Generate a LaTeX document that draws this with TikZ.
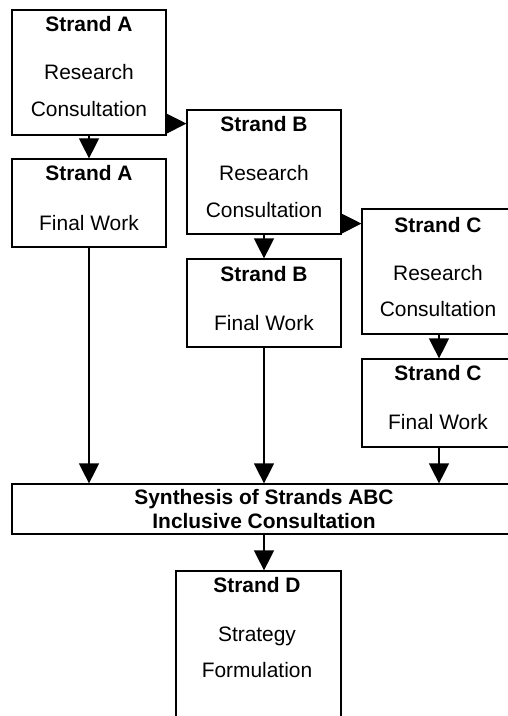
\documentclass[tikz,border=0pt]{standalone}
\usepackage{fontspec}
\setmainfont{Liberation Sans}
\usetikzlibrary{arrows.meta}
\begin{document}
\begin{tikzpicture}[x=1bp,y=-1bp,
  box/.style={draw, line width=1.2bp, minimum width=154bp, inner sep=0pt},
  txt/.style={anchor=base, inner sep=0pt, font=\fontsize{21}{25}\selectfont},
  ttl/.style={anchor=base, inner sep=0pt, font=\fontsize{21}{25}\selectfont\bfseries},
  arr/.style={line width=1.2bp, -{Triangle[length=20bp,width=20bp]}}]
\useasboundingbox (0,0) rectangle (508,716);
\clip (0,0) rectangle (508,716);
% boxes
\node[box, minimum height=125bp] (A1) at (89,72.5) {};
\node[box, minimum height=88bp] (A2) at (89,203) {};
\node[box, minimum height=124bp] (B1) at (264,172) {};
\node[box, minimum height=88bp] (B2) at (264,303) {};
\node[box, minimum height=125bp] (C1) at (439,271.5) {};
\node[box, minimum height=88bp] (C2) at (439,403) {};
\node[box, minimum width=504bp, minimum height=50bp] (S) at (264,509) {};
\node[box, minimum width=165bp, minimum height=159bp] (D) at (258.5,650.5) {};
% texts
\node[ttl] (A1a) at (89,32) {Strand A};
\node[txt] (A1b) at (89,80) {Research};
\node[txt] (A1c) at (89,117) {Consultation};
\node[ttl] (A2a) at (89,180) {Strand A};
\node[txt] (A2b) at (89,230) {Final Work};
\node[ttl] (B1a) at (264,132) {Strand B};
\node[txt] (B1b) at (264,180) {Research};
\node[txt] (B1c) at (264,217) {Consultation};
\node[ttl] (B2a) at (264,281) {Strand B};
\node[txt] (B2b) at (264,330) {Final Work};
\node[ttl] (C1a) at (438,232) {Strand C};
\node[txt] (C1b) at (438,280) {Research};
\node[txt] (C1c) at (438,316) {Consultation};
\node[ttl] (C2a) at (438,380) {Strand C};
\node[txt] (C2b) at (438,429) {Final Work};
\node[ttl] (Sa) at (264,504) {Synthesis of Strands ABC};
\node[ttl] (Sb) at (264,528) {Inclusive Consultation};
\node[ttl] (Da) at (257,592) {Strand D};
\node[txt] (Db) at (257,641) {Strategy};
\node[txt] (Dc) at (257,677) {Formulation};
% connectors
\draw[arr] (A1.south) -- (A2.north);
\draw[arr] (B1.south) -- (B2.north);
\draw[arr] (C1.south) -- (C2.north);
\draw[arr] ([yshift=12bp]A1.south east) -- ([yshift=12bp]A1.south east -| B1.west);
\draw[arr] ([yshift=11bp]B1.south east) -- ([yshift=11bp]B1.south east -| C1.west);
\draw[arr] (A2.south) -- (A2.south |- S.north);
\draw[arr] (B2.south) -- (B2.south |- S.north);
\draw[arr] (C2.south) -- (C2.south |- S.north);
\draw[arr] (S.south) -- (S.south |- D.north);
\end{tikzpicture}
\end{document}
